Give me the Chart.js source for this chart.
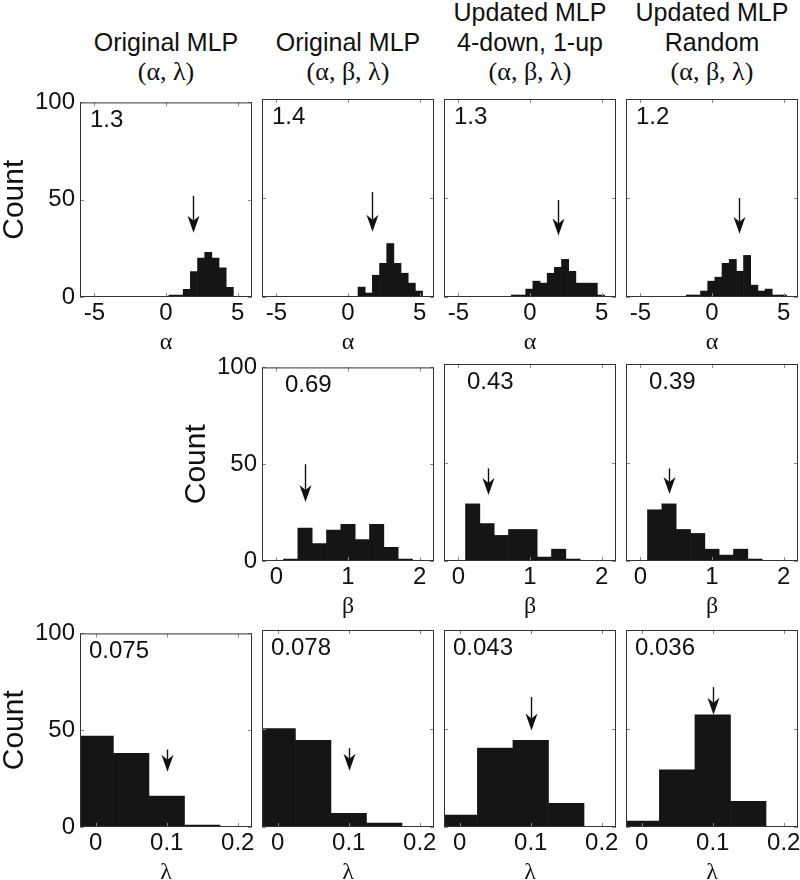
<!DOCTYPE html>
<html><head><meta charset="utf-8">
<script src="https://cdn.jsdelivr.net/npm/chart.js@4/dist/chart.umd.min.js"></script>
<style>
html,body{margin:0;padding:0;background:#fff;width:800px;height:880px;overflow:hidden;position:relative;}
canvas{position:absolute;}
.tl{position:absolute;width:220px;text-align:center;white-space:nowrap;color:#111;font-family:"Liberation Sans",Arial,sans-serif;font-size:25px;line-height:25px;}
.tl.g{font-family:"Liberation Serif","Times New Roman",serif;font-size:26px;line-height:26px;}
</style></head><body>
<script>
// ---------- data ----------
const columnTitles = [
  ["Original MLP", "(α, λ)"],
  ["Original MLP", "(α, β, λ)"],
  ["Updated MLP", "4-down, 1-up", "(α, β, λ)"],
  ["Updated MLP", "Random", "(α, β, λ)"]
];
const alphaBins = [-1.55, -1.05, -0.55, -0.05, 0.45, 0.95, 1.45, 1.95, 2.45, 2.95, 3.45, 3.95, 4.45, 4.95];
const alphaCounts = [
  [0, 0, 0, 0, 1, 1, 4, 13, 20, 23, 20, 15, 5, 0],
  [0, 0, 0, 0, 0, 5, 2, 11, 17, 27, 17, 12, 7, 3],
  [0, 1, 1, 4, 8, 7, 12, 15, 19, 13, 7, 7, 7, 1],
  [1, 1, 3, 8, 10, 17, 19, 13, 21, 6, 3, 4, 1, 1]
];
const betaBins = [0.2, 0.4, 0.6, 0.8, 1.0, 1.2, 1.4, 1.6, 1.8];
const betaCounts = [
  null,
  [1, 17, 9, 16, 19, 11, 19, 7, 1],
  [29, 19, 13, 16, 16, 2, 6, 1, 0],
  [26, 29, 16, 14, 6, 3, 6, 1, 0]
];
const lambdaBins = [0, 0.05, 0.1, 0.15];
const lambdaCounts = [
  [47, 38, 16, 1],
  [50, 44, 7, 2],
  [6, 40, 44, 12],
  [3, 29, 57, 13]
];
const alphaTicks = [-5, 0, 5];
const betaTicks = [0, 1, 2];
const lambdaTicks = [0, 0.1, 0.2];
const countTicks = [0, 50, 100];
const alphaLabels = ["1.3", "1.4", "1.3", "1.2"];
const betaLabels = [null, "0.69", "0.43", "0.39"];
const lambdaLabels = ["0.075", "0.078", "0.043", "0.036"];
// arrows: [x value, count at tail, count at tip]
const alphaArrows = [[1.9, 52, 33], [1.69, 53, 33], [1.97, 49, 31], [1.9, 50, 32]];
const betaArrows = [null, [0.40, 50, 30.5], [0.41, 47, 33.5], [0.40, 47, 34]];
const lambdaArrows = [[0.1, 40, 28.5], [0.1, 40, 28.5], [0.1, 66, 49], [0.1, 71, 57]];

// ---------- layout ----------
const panelLeft = [80, 262, 444, 626];
const panelW = 172;
const rowTop = [99, 364, 630];
const rowH = [198, 197, 197];
const Y_W = 83, PAD_T = 16, PAD_R = 6, X_H = 70;
const SANS = '"Liberation Sans", Arial, sans-serif';
const SERIF = '"Liberation Serif", "Times New Roman", serif';

// titles
const lineBase = {2: [51, 81], 3: [21, 51, 81]};
columnTitles.forEach((lines, c) => {
  const bases = lineBase[lines.length];
  lines.forEach((t, i) => {
    const d = document.createElement('div');
    const greek = i === lines.length - 1;
    d.className = 'tl' + (greek ? ' g' : '');
    d.textContent = t;
    const cx = panelLeft[c] + panelW / 2;
    d.style.left = (cx - 110) + 'px';
    d.style.top = (bases[i] - (greek ? 22 : 21.3)) + 'px';
    document.body.appendChild(d);
  });
});

const decor = {
  id: 'decor',
  afterDatasetsDraw(chart, args, o) {
    const {ctx, chartArea: a, scales: {x, y}} = chart;
    ctx.save();
    ctx.lineWidth = 1;
    ctx.strokeStyle = '#8a8a8a';
    ctx.beginPath();
    x.ticks.forEach(t => {
      const px = Math.round(x.getPixelForValue(t.value)) + 0.5;
      ctx.moveTo(px, a.bottom); ctx.lineTo(px, a.bottom - 4);
      ctx.moveTo(px, a.top); ctx.lineTo(px, a.top + 4);
    });
    y.ticks.forEach(t => {
      const py = Math.round(y.getPixelForValue(t.value)) + 0.5;
      ctx.moveTo(a.left, py); ctx.lineTo(a.left + 4, py);
      ctx.moveTo(a.right, py); ctx.lineTo(a.right - 4, py);
    });
    ctx.stroke();
    ctx.strokeStyle = '#333';
    ctx.strokeRect(a.left + 0.5, a.top + 0.5, a.width - 1, a.height - 1);
    // value label
    ctx.fillStyle = '#111';
    ctx.font = '24px ' + SANS;
    ctx.textBaseline = 'alphabetic';
    ctx.textAlign = 'left';
    ctx.fillText(o.label, a.left + o.dx, a.top + 25);
    // arrow
    const ax = Math.round(x.getPixelForValue(o.arrow[0])) + 0.5;
    const yTail = y.getPixelForValue(o.arrow[1]);
    const yTip = y.getPixelForValue(o.arrow[2]);
    const hl = 17, hw = 6, notch = 5;
    ctx.strokeStyle = '#111';
    ctx.lineWidth = 1.4;
    ctx.beginPath();
    ctx.moveTo(ax, yTail); ctx.lineTo(ax, yTip - hl + notch);
    ctx.stroke();
    ctx.fillStyle = '#111';
    ctx.beginPath();
    ctx.moveTo(ax, yTip);
    ctx.lineTo(ax - hw, yTip - hl);
    ctx.lineTo(ax, yTip - hl + notch);
    ctx.lineTo(ax + hw, yTip - hl);
    ctx.closePath();
    ctx.fill();
    ctx.restore();
  }
};

function makePanel(r, c, bins, counts, xmin, xmax, xticks, xTitle, label, labelDx, arrow, showY) {
  const cv = document.createElement('canvas');
  const W = Y_W + panelW + PAD_R, H = PAD_T + rowH[r] + X_H;
  cv.width = W; cv.height = H;
  cv.style.left = (panelLeft[c] - Y_W) + 'px';
  cv.style.top = (rowTop[r] - PAD_T) + 'px';
  cv.style.width = W + 'px'; cv.style.height = H + 'px';
  document.body.appendChild(cv);
  new Chart(cv.getContext('2d'), {
    type: 'bar',
    data: {
      datasets: [{
        data: bins.map((b, i) => ({x: b, y: counts[i]})),
        backgroundColor: '#151515',
        borderWidth: 0,
        barPercentage: 1,
        categoryPercentage: 1
      }]
    },
    options: {
      animation: false, responsive: false, devicePixelRatio: 1,
      events: [],
      layout: {padding: {left: 0, top: PAD_T, right: PAD_R, bottom: 0}},
      plugins: {
        legend: {display: false}, tooltip: {enabled: false},
        decor: {label: label, dx: labelDx, arrow: arrow}
      },
      scales: {
        x: {
          type: 'linear', min: xmin, max: xmax, offset: false,
          grid: {display: false, offset: false, drawTicks: false},
          border: {display: false},
          afterBuildTicks: s => { s.ticks = xticks.map(v => ({value: v})); },
          afterFit: s => { s.height = X_H; },
          ticks: {color: '#111', font: {family: SANS, size: 24}, padding: 2, maxRotation: 0, autoSkip: false,
                  callback: v => String(v)},
          title: {display: true, text: xTitle, color: '#111', font: {family: SERIF, size: 24}, padding: {top: 0, bottom: 10}}
        },
        y: {
          type: 'linear', min: 0, max: 100,
          grid: {display: false, drawTicks: false},
          border: {display: false},
          afterBuildTicks: s => { s.ticks = countTicks.map(v => ({value: v})); },
          afterFit: s => { s.width = Y_W; },
          ticks: {display: showY, color: '#111', font: {family: SANS, size: 24}, padding: 5},
          title: {display: showY, text: 'Count', color: '#111', font: {family: SANS, size: 30}, padding: 0}
        }
      }
    },
    plugins: [decor]
  });
}

for (let c = 0; c < 4; c++) {
  makePanel(0, c, alphaBins, alphaCounts[c], -6, 6, alphaTicks, 'α', alphaLabels[c], 10, alphaArrows[c], c === 0);
  if (betaCounts[c]) makePanel(1, c, betaBins, betaCounts[c], -0.2, 2.2, betaTicks, 'β', betaLabels[c], 23, betaArrows[c], c === 1);
  makePanel(2, c, lambdaBins, lambdaCounts[c], -0.022, 0.22, lambdaTicks, 'λ', lambdaLabels[c], 9, lambdaArrows[c], c === 0);
}
</script>
</body></html>
